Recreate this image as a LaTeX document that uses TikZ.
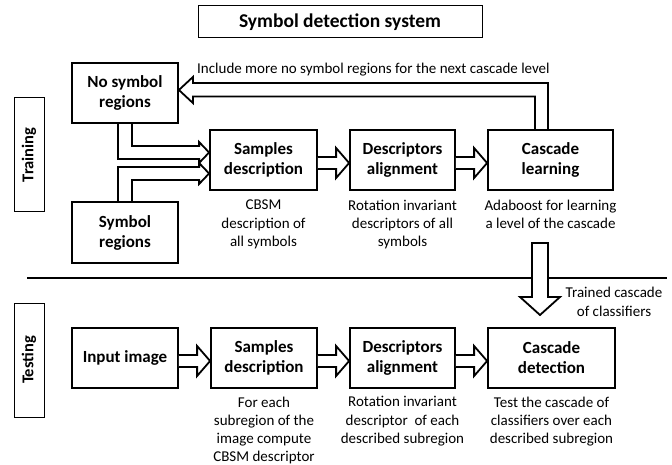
\documentclass[tikz,border=0pt]{standalone}
\usepackage{fontspec}
\setmainfont{Carlito}
\usetikzlibrary{calc}
\tikzset{
  box/.style={draw, line width=1.8pt, minimum width=106pt, minimum height=60pt, inner sep=0pt, align=center, font=\fontsize{17}{20}\selectfont\bfseries},
  thinbox/.style={draw, line width=1pt, inner sep=0pt, font=\fontsize{16.5}{20}\selectfont\bfseries},
  desc/.style={anchor=north, inner sep=0pt, align=center, font=\fontsize{15}{18.2}\selectfont},
  barrow/.style={draw, line width=1.8pt, line join=miter, fill=white},
}
\newcommand{\harr}[2]{%
  \draw[barrow] ($(#1.east)+(0,-3)$) -- ($(#2.west)+(-13,-3)$) -- ($(#2.west)+(-13,-12)$) -- ($(#2.west)+(0,3)$) -- ($(#2.west)+(-13,18)$) -- ($(#2.west)+(-13,9)$) -- ($(#1.east)+(0,9)$);}
\begin{document}
\begin{tikzpicture}[x=1pt,y=-1pt]
\useasboundingbox (0,0) rectangle (672,465);
% title and side labels
\node[thinbox, minimum width=284pt, minimum height=32pt, font=\fontsize{19.5}{22}\selectfont\bfseries] (title) at (340,22) {Symbol detection system};
\node[thinbox, minimum width=114pt, minimum height=30pt, rotate=90] (train) at (29,155) {Training};
\node[thinbox, minimum width=114pt, minimum height=30pt, rotate=90] (test) at (29,360) {Testing};
% training row
\node[box] (nosym) at (125,93) {No symbol\\regions};
\node[box, minimum height=61pt] (sym) at (125,232.5) {Symbol\\regions};
\node[box, minimum width=107pt] (samp1) at (263.5,160) {Samples\\description};
\node[box, minimum width=105pt] (desc1) at (402.5,160) {Descriptors\\alignment};
\node[box, minimum width=125pt] (casc1) at (550.5,160) {Cascade\\learning};
% testing row
\node[box] (input) at (125,358) {Input image};
\node[box] (samp2) at (264,358) {Samples\\description};
\node[box, minimum width=105pt] (desc2) at (402.5,358) {Descriptors\\alignment};
\node[box, minimum width=127pt] (casc2) at (551.5,358) {Cascade\\detection};
% descriptions
\node[desc] (d1) at ($(samp1.south)+(0,9)$) {CBSM\\description of\\all symbols};
\node[desc] (d2) at ($(desc1.south)+(0,9)$) {Rotation invariant\\descriptors of all\\symbols};
\node[desc] (d3) at ($(casc1.south)+(0,9)$) {Adaboost for learning\\a level of the cascade};
\node[desc] (d4) at ($(samp2.south)+(0,7.5)$) {For each\\subregion of the\\image compute\\CBSM descriptor};
\node[desc] (d5) at ($(desc2.south)+(0,7.5)$) {Rotation invariant\\descriptor\ \ of each\\described subregion};
\node[desc] (d6) at ($(casc2.south)+(0,7.5)$) {Test the cascade of\\classifiers over each\\described subregion};
% separator
\coordinate (sepL) at (27,278);
\coordinate (sepR) at (667,278);
\draw[line width=2.5pt] (sepL) -- (sepR);
% horizontal block arrows
\harr{samp1}{desc1}
\harr{desc1}{casc1}
\harr{input}{samp2}
\harr{samp2}{desc2}
\harr{desc2}{casc2}
% L-shaped arrows into samples description
\draw[barrow, fill=none] ($(nosym.south)+(7,0)$) |- ($(samp1.west)+(-10,-14)$) -- ($(samp1.west)+(-10,-18)$) -- ($(samp1.west)+(0,-7.5)$) -- ($(samp1.west)+(-10,3)$) -- ($(samp1.west)+(-10,-1)$) -| ($(nosym.south)+(-7,0)$);
\draw[barrow, fill=none] ($(sym.north)+(7,0)$) |- ($(samp1.west)+(-10,20)$) -- ($(samp1.west)+(-10,24)$) -- ($(samp1.west)+(0,13.5)$) -- ($(samp1.west)+(-10,3)$) -- ($(samp1.west)+(-10,7)$) -| ($(sym.north)+(-7,0)$);
% feedback arrow
\draw[barrow, fill=none] ($(casc1.north)+(-15.5,0)$) |- ($(nosym.east)+(14,3.5)$) -- ($(nosym.east)+(14,10)$) -- ($(nosym.east)+(0,-3)$) -- ($(nosym.east)+(14,-16)$) -- ($(nosym.east)+(14,-10)$) -| ($(casc1.north)+(-2.5,0)$);
\node[anchor=west, inner sep=0pt, font=\fontsize{15}{18.5}\selectfont] (fb) at (197,70) {Include more no symbol regions for the next cascade level};
% trained cascade arrow
\coordinate (dtop) at (540,243);
\coordinate (dtip) at (540,315);
\draw[barrow] ($(dtop)+(-8,0)$) -- ($(dtip)+(-8,-18)$) -- ($(dtip)+(-20,-18)$) -- (dtip) -- ($(dtip)+(20,-18)$) -- ($(dtip)+(8,-18)$) -- ($(dtop)+(8,0)$) -- cycle;
\node[align=center, inner sep=0pt, font=\fontsize{15}{18.5}\selectfont] (tc) at (614,302) {Trained cascade\\of classifiers};
\end{tikzpicture}
\end{document}
